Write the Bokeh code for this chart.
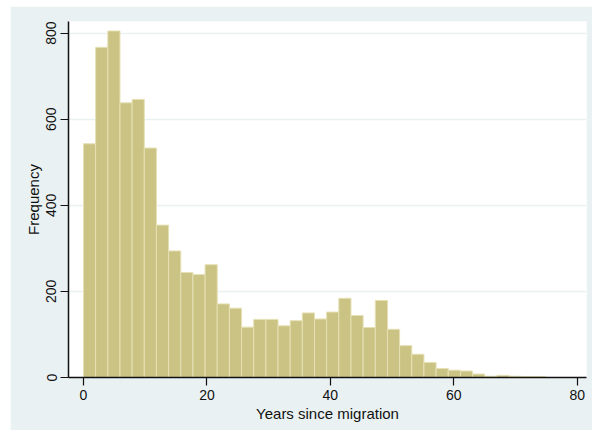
from bokeh.plotting import figure
from bokeh.models import Range1d, FixedTicker
from bokeh.embed import file_html
from bokeh.resources import INLINE

# Histogram of years since migration: 38 bins of equal width starting at 0
bin_start = 0.0
bin_width = 1.97
frequency = [543, 767, 805, 638, 646, 533, 354, 294, 244, 239,
             262, 171, 161, 117, 135, 135, 120, 132, 150, 136,
             152, 184, 144, 116, 179, 112, 74, 54, 35, 21,
             17, 15, 8, 3, 5, 3, 2, 2]
x_ticks = [0, 20, 40, 60, 80]
y_ticks = [0, 200, 400, 600, 800]

left = [bin_start + i * bin_width for i in range(len(frequency))]
right = [l + bin_width for l in left]

OUTER = "#EAF1F3"
FONT = "Liberation Sans"

p = figure(width=582, height=424, output_backend="svg", toolbar_location=None,
           x_range=Range1d(-2.43, 81.5), y_range=Range1d(0, 827),
           min_border_left=58, min_border_top=15, min_border_right=6,
           min_border_bottom=53, background_fill_color="white",
           border_fill_color=OUTER, outline_line_color=None)
p.margin = (6, 0, 0, 10)

p.quad(left=left, right=right, bottom=0, top=frequency,
       fill_color="#CAC384", line_color="#E6E0B4", line_width=1)

p.xgrid.visible = False
p.ygrid.grid_line_color = OUTER
p.ygrid.grid_line_width = 1.5

p.xaxis.ticker = FixedTicker(ticks=x_ticks)
p.yaxis.ticker = FixedTicker(ticks=y_ticks)
p.xaxis.axis_label = "Years since migration"
p.yaxis.axis_label = "Frequency"
p.yaxis.major_label_orientation = "vertical"

for ax in (p.xaxis[0], p.yaxis[0]):
    ax.axis_line_color = "#111111"
    ax.axis_line_width = 1.5
    ax.major_tick_line_color = "#111111"
    ax.major_tick_line_width = 1.2
    ax.major_tick_in = 0
    ax.major_tick_out = 8
    ax.minor_tick_line_color = None
    ax.major_label_text_font = FONT
    ax.major_label_text_font_size = "14px"
    ax.major_label_text_color = "#111111"
    ax.major_label_standoff = 4
    ax.axis_label_text_font = FONT
    ax.axis_label_text_font_size = "15px"
    ax.axis_label_text_font_style = "normal"
    ax.axis_label_text_color = "#111111"
    ax.axis_label_standoff = 2

open("out.html", "w").write(file_html(p, INLINE))
